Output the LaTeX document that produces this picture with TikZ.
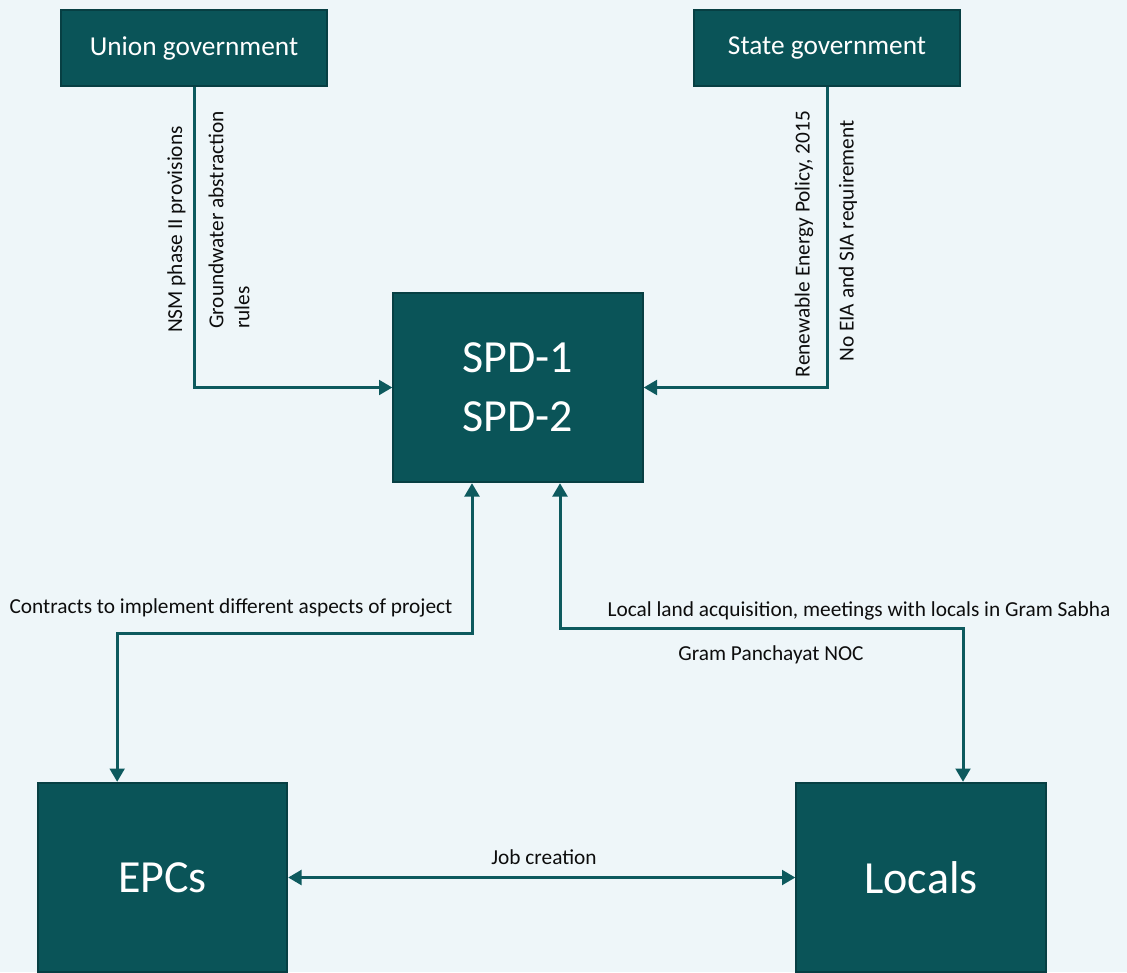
\documentclass[tikz,border=0pt]{standalone}
\usepackage{fontspec}
\setmainfont{Carlito}
\usetikzlibrary{arrows.meta}
\definecolor{bgcol}{HTML}{EEF6F9}
\definecolor{boxfill}{HTML}{0A5458}
\definecolor{boxedge}{HTML}{073F43}
\definecolor{linecol}{HTML}{0D5A5E}
\definecolor{lbltext}{HTML}{0D0D0D}

\begin{document}
\begin{tikzpicture}[x=0.75pt,y=-0.75pt]
      \tikzstyle{actor}=[rectangle,draw=boxedge,fill=boxfill,line width=1.5pt,text=white,inner sep=0pt,align=center]
      \tikzstyle{govbox}=[actor,minimum width=199pt,minimum height=57pt,font=\fontsize{20.5}{24}\selectfont]
      \tikzstyle{bigbox}=[actor,minimum width=187pt,minimum height=142pt,font=\fontsize{34.5}{44}\selectfont]
      \tikzstyle{link}=[draw=linecol,line width=2.25pt,-{Triangle[length=10pt,width=11pt]}]
      \tikzstyle{lbl}=[text=lbltext,inner sep=0pt,font=\fontsize{16}{19.5}\selectfont]
      \fill[bgcol] (0,0) rectangle (1127,972);
      \useasboundingbox (0,0) rectangle (1127,972);
      \node[govbox] (union) at (194,48) {Union government};
      \node[govbox] (state) at (827,48) {State government};
      \node[bigbox] (spd) at (518,387.5) {SPD-1\\SPD-2};
      \node[bigbox] (epcs) at (162.5,877.5) {EPCs};
      \node[bigbox] (locals) at (921,877.5) {Locals};
      \draw[link] (union.south) |- (spd.west);
      \draw[link] (state.south) |- (spd.east);
      \draw[link,{Triangle[length=10pt,width=11pt]}-{Triangle[length=10pt,width=11pt]}] ([xshift=-34.5pt]spd.south) -- ++(0,150) -| ([xshift=-34pt]epcs.north);
      \draw[link,{Triangle[length=10pt,width=11pt]}-{Triangle[length=10pt,width=11pt]}] ([xshift=31.5pt]spd.south) -- ++(0,145) -| ([xshift=31.5pt]locals.north);
      \draw[link,{Triangle[length=10pt,width=11pt]}-{Triangle[length=10pt,width=11pt]}] (epcs.east) -- (locals.west);
      \node[lbl,rotate=90] (nsm) at (176.5,229.5) {NSM phase II provisions};
      \node[lbl,rotate=90,align=left] (water) at (229,220) {Groundwater abstraction\\rules};
      \node[lbl,rotate=90] (repolicy) at (804,244) {Renewable Energy Policy, 2015};
      \node[lbl,rotate=90] (noeia) at (848,241) {No EIA and SIA requirement};
      \node[lbl] (contracts) at (231,608) {Contracts to implement different aspects of project};
      \node[lbl] (land) at (859,611) {Local land acquisition, meetings with locals in Gram Sabha};
      \node[lbl] (noc) at (771,655) {Gram Panchayat NOC};
      \node[lbl] (jobs) at (544,857) {Job creation};
\end{tikzpicture}
\end{document}
